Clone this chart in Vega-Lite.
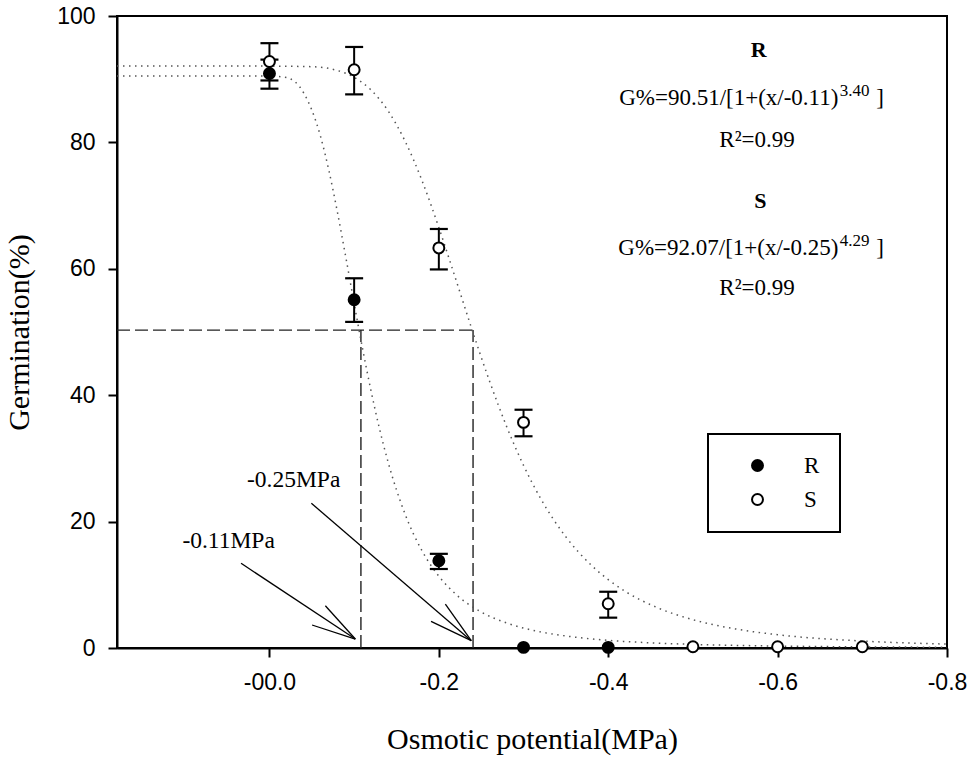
{
  "$schema": "https://vega.github.io/schema/vega-lite/v6.json",
  "width": 830,
  "height": 632,
  "autosize": "none",
  "padding": {"left": 117, "top": 16, "right": 27, "bottom": 112},
  "background": "white",
  "datasets": {
    "obs": [
      {"biotype": "S", "potential": 0, "germination": 92.8, "low": 89.8, "high": 95.7},
      {"biotype": "S", "potential": -0.1, "germination": 91.5, "low": 87.6, "high": 95.1},
      {"biotype": "S", "potential": -0.2, "germination": 63.3, "low": 59.9, "high": 66.3},
      {"biotype": "S", "potential": -0.3, "germination": 35.7, "low": 33.5, "high": 37.7},
      {"biotype": "S", "potential": -0.4, "germination": 7.0, "low": 4.8, "high": 8.9},
      {"biotype": "S", "potential": -0.5, "germination": 0.2, "low": null, "high": null},
      {"biotype": "S", "potential": -0.6, "germination": 0.2, "low": null, "high": null},
      {"biotype": "S", "potential": -0.7, "germination": 0.2, "low": null, "high": null},
      {"biotype": "R", "potential": 0, "germination": 90.9, "low": 88.5, "high": 93.1},
      {"biotype": "R", "potential": -0.1, "germination": 55.1, "low": 51.6, "high": 58.5},
      {"biotype": "R", "potential": -0.2, "germination": 13.8, "low": 12.5, "high": 14.9},
      {"biotype": "R", "potential": -0.3, "germination": 0.1, "low": null, "high": null},
      {"biotype": "R", "potential": -0.4, "germination": 0.1, "low": null, "high": null}
    ],
    "curves": [
      {"biotype": "R", "potential": 0.18, "germination": 90.51},
      {"biotype": "R", "potential": 0, "germination": 90.51},
      {"biotype": "R", "potential": -0.02, "germination": 90.26},
      {"biotype": "R", "potential": -0.04, "germination": 87.93},
      {"biotype": "R", "potential": -0.06, "germination": 81.09},
      {"biotype": "R", "potential": -0.07, "germination": 75.66},
      {"biotype": "R", "potential": -0.08, "germination": 69.14},
      {"biotype": "R", "potential": -0.09, "germination": 61.94},
      {"biotype": "R", "potential": -0.10, "germination": 54.52},
      {"biotype": "R", "potential": -0.11, "germination": 47.33},
      {"biotype": "R", "potential": -0.12, "germination": 40.65},
      {"biotype": "R", "potential": -0.13, "germination": 34.67},
      {"biotype": "R", "potential": -0.14, "germination": 29.46},
      {"biotype": "R", "potential": -0.16, "germination": 21.23},
      {"biotype": "R", "potential": -0.18, "germination": 15.42},
      {"biotype": "R", "potential": -0.20, "germination": 11.36},
      {"biotype": "R", "potential": -0.22, "germination": 8.51},
      {"biotype": "R", "potential": -0.25, "germination": 5.70},
      {"biotype": "R", "potential": -0.28, "germination": 3.96},
      {"biotype": "R", "potential": -0.32, "germination": 2.55},
      {"biotype": "R", "potential": -0.36, "germination": 1.73},
      {"biotype": "R", "potential": -0.40, "germination": 1.21},
      {"biotype": "R", "potential": -0.45, "germination": 0.82},
      {"biotype": "R", "potential": -0.50, "germination": 0.57},
      {"biotype": "R", "potential": -0.60, "germination": 0.31},
      {"biotype": "R", "potential": -0.70, "germination": 0.18},
      {"biotype": "R", "potential": -0.80, "germination": 0.12},
      {"biotype": "S", "potential": 0.18, "germination": 92.07},
      {"biotype": "S", "potential": 0, "germination": 92.07},
      {"biotype": "S", "potential": -0.05, "germination": 91.98},
      {"biotype": "S", "potential": -0.08, "germination": 91.38},
      {"biotype": "S", "potential": -0.10, "germination": 90.30},
      {"biotype": "S", "potential": -0.12, "germination": 88.28},
      {"biotype": "S", "potential": -0.14, "germination": 85.01},
      {"biotype": "S", "potential": -0.16, "germination": 80.24},
      {"biotype": "S", "potential": -0.18, "germination": 74.00},
      {"biotype": "S", "potential": -0.20, "germination": 66.53},
      {"biotype": "S", "potential": -0.22, "germination": 58.35},
      {"biotype": "S", "potential": -0.24, "germination": 50.05},
      {"biotype": "S", "potential": -0.26, "germination": 42.17},
      {"biotype": "S", "potential": -0.28, "germination": 35.06},
      {"biotype": "S", "potential": -0.30, "germination": 28.90},
      {"biotype": "S", "potential": -0.32, "germination": 23.70},
      {"biotype": "S", "potential": -0.35, "germination": 17.58},
      {"biotype": "S", "potential": -0.38, "germination": 13.10},
      {"biotype": "S", "potential": -0.40, "germination": 10.82},
      {"biotype": "S", "potential": -0.42, "germination": 8.97},
      {"biotype": "S", "potential": -0.46, "germination": 6.27},
      {"biotype": "S", "potential": -0.50, "germination": 4.48},
      {"biotype": "S", "potential": -0.55, "germination": 3.02},
      {"biotype": "S", "potential": -0.60, "germination": 2.10},
      {"biotype": "S", "potential": -0.70, "germination": 1.10},
      {"biotype": "S", "potential": -0.80, "germination": 0.62}
    ],
    "guides": [
      {"potential": 0.18, "germination": 50.3, "potential2": -0.2404, "germination2": 50.3},
      {"potential": -0.108, "germination": 0, "potential2": -0.108, "germination2": 50.3},
      {"potential": -0.2404, "germination": 0, "potential2": -0.2404, "germination2": 50.3}
    ],
    "arrows": [
      {"potential": 0.0335, "germination": 13.4, "potential2": -0.1014, "germination2": 1.42},
      {"potential": -0.0503, "germination": 3.64, "potential2": -0.1014, "germination2": 1.42},
      {"potential": -0.0660, "germination": 6.69, "potential2": -0.1014, "germination2": 1.42},
      {"potential": -0.0495, "germination": 22.9, "potential2": -0.2383, "germination2": 1.16},
      {"potential": -0.1908, "germination": 4.22, "potential2": -0.2383, "germination2": 1.16},
      {"potential": -0.2077, "germination": 6.96, "potential2": -0.2383, "germination2": 1.16}
    ],
    "notes": [
      {"role": "head", "potential": -0.5776, "germination": 93.5, "text": "R"},
      {"role": "eq", "potential": -0.6718, "germination": 85.9, "text": "G%=90.51/[1+(x/-0.11)"},
      {"role": "sup", "potential": -0.6735, "germination": 87.3, "text": "3.40"},
      {"role": "br", "potential": -0.7164, "germination": 85.9, "text": "]"},
      {"role": "r2", "potential": -0.5757, "germination": 79.3, "text": "R²=0.99"},
      {"role": "head", "potential": -0.5796, "germination": 69.6, "text": "S"},
      {"role": "eq", "potential": -0.6718, "germination": 62.2, "text": "G%=92.07/[1+(x/-0.25)"},
      {"role": "sup", "potential": -0.6735, "germination": 63.6, "text": "4.29"},
      {"role": "br", "potential": -0.7164, "germination": 62.2, "text": "]"},
      {"role": "r2", "potential": -0.5757, "germination": 55.9, "text": "R²=0.99"},
      {"role": "arrow", "potential": 0.0482, "germination": 15.8, "text": "-0.11MPa"},
      {"role": "arrow", "potential": -0.0286, "germination": 25.4, "text": "-0.25MPa"}
    ]
  },
  "encoding": {
    "x": {
      "field": "potential",
      "type": "quantitative",
      "scale": {"domain": [0.18, -0.8], "nice": false, "zero": false},
      "axis": {
        "title": "Osmotic potential(MPa)",
        "values": [0, -0.2, -0.4, -0.6, -0.8],
        "labelExpr": "datum.value == 0 ? '-00.0' : '-' + format(abs(datum.value), '.1f')",
        "labelPadding": 14,
        "titlePadding": 30
      }
    },
    "y": {
      "field": "germination",
      "type": "quantitative",
      "scale": {"domain": [0, 100], "nice": false},
      "axis": {
        "title": "Germination(%)",
        "values": [0, 20, 40, 60, 80, 100],
        "format": "d",
        "labelPadding": 13,
        "titlePadding": 22
      }
    }
  },
  "layer": [
    {
      "data": {"name": "guides"},
      "mark": {"type": "rule", "stroke": "#222", "strokeWidth": 1.4, "strokeDash": [13, 5]},
      "encoding": {"x2": {"field": "potential2"}, "y2": {"field": "germination2"}}
    },
    {
      "data": {"name": "curves"},
      "mark": {"type": "line", "interpolate": "monotone", "stroke": "#555", "strokeWidth": 1.5, "strokeDash": [1.5, 4.5]},
      "encoding": {"detail": {"field": "biotype"}}
    },
    {
      "data": {"name": "arrows"},
      "mark": {"type": "rule", "stroke": "black", "strokeWidth": 1.3},
      "encoding": {"x2": {"field": "potential2"}, "y2": {"field": "germination2"}}
    },
    {
      "data": {"name": "obs"},
      "transform": [{"filter": "datum.low != null"}],
      "mark": {"type": "rule", "stroke": "black", "strokeWidth": 2},
      "encoding": {
        "y": {"field": "low", "type": "quantitative"},
        "y2": {"field": "high"}
      }
    },
    {
      "data": {"name": "obs"},
      "transform": [{"filter": "datum.low != null"}],
      "mark": {"type": "tick", "orient": "horizontal", "color": "black", "size": 18, "thickness": 2.2, "opacity": 1},
      "encoding": {"y": {"field": "low", "type": "quantitative"}}
    },
    {
      "data": {"name": "obs"},
      "transform": [{"filter": "datum.low != null"}],
      "mark": {"type": "tick", "orient": "horizontal", "color": "black", "size": 18, "thickness": 2.2, "opacity": 1},
      "encoding": {"y": {"field": "high", "type": "quantitative"}}
    },
    {
      "data": {"name": "obs"},
      "mark": {"type": "point", "shape": "circle", "filled": true, "size": 120, "stroke": "black", "strokeWidth": 2, "opacity": 1},
      "encoding": {
        "fill": {
          "field": "biotype",
          "type": "nominal",
          "scale": {"domain": ["R", "S"], "range": ["black", "white"]},
          "legend": {
            "title": null,
            "orient": "none",
            "legendX": 591,
            "legendY": 418,
            "padding": 20,
            "symbolOffset": 18,
            "labelOffset": 35,
            "rowPadding": 10,
            "strokeColor": "black",
            "symbolType": "circle",
            "symbolSize": 120,
            "symbolStrokeColor": "black",
            "symbolStrokeWidth": 2,
            "symbolOpacity": 1,
            "labelFont": "Liberation Serif",
            "labelFontSize": 23,
            "labelColor": "black",
            "encode": {"legend": {"update": {"strokeWidth": {"value": 2}}}}
          }
        }
      }
    },
    {
      "data": {"name": "notes"},
      "transform": [{"filter": "datum.role == 'head'"}],
      "mark": {"type": "text", "font": "Liberation Serif", "fontSize": 22, "fontWeight": "bold", "align": "center", "baseline": "alphabetic", "color": "black"},
      "encoding": {"text": {"field": "text"}}
    },
    {
      "data": {"name": "notes"},
      "transform": [{"filter": "datum.role == 'eq'"}],
      "mark": {"type": "text", "font": "Liberation Serif", "fontSize": 23, "align": "right", "baseline": "alphabetic", "color": "black"},
      "encoding": {"text": {"field": "text"}}
    },
    {
      "data": {"name": "notes"},
      "transform": [{"filter": "datum.role == 'sup'"}],
      "mark": {"type": "text", "font": "Liberation Serif", "fontSize": 17, "align": "left", "baseline": "alphabetic", "color": "black"},
      "encoding": {"text": {"field": "text"}}
    },
    {
      "data": {"name": "notes"},
      "transform": [{"filter": "datum.role == 'br'"}],
      "mark": {"type": "text", "font": "Liberation Serif", "fontSize": 23, "align": "left", "baseline": "alphabetic", "color": "black"},
      "encoding": {"text": {"field": "text"}}
    },
    {
      "data": {"name": "notes"},
      "transform": [{"filter": "datum.role == 'r2'"}],
      "mark": {"type": "text", "font": "Liberation Serif", "fontSize": 23, "align": "center", "baseline": "alphabetic", "color": "black"},
      "encoding": {"text": {"field": "text"}}
    },
    {
      "data": {"name": "notes"},
      "transform": [{"filter": "datum.role == 'arrow'"}],
      "mark": {"type": "text", "font": "Liberation Serif", "fontSize": 23.5, "align": "center", "baseline": "alphabetic", "color": "black"},
      "encoding": {"text": {"field": "text"}}
    }
  ],
  "config": {
    "view": {"stroke": "black", "strokeWidth": 2},
    "axis": {
      "grid": false,
      "domainColor": "black",
      "domainWidth": 2,
      "tickColor": "black",
      "tickWidth": 2,
      "tickSize": 9,
      "labelFont": "Liberation Sans",
      "labelFontSize": 23,
      "labelColor": "black",
      "labelOverlap": false,
      "labelFlush": false,
      "titleFont": "Liberation Serif",
      "titleFontSize": 30,
      "titleFontWeight": "normal",
      "titleColor": "black"
    }
  }
}
